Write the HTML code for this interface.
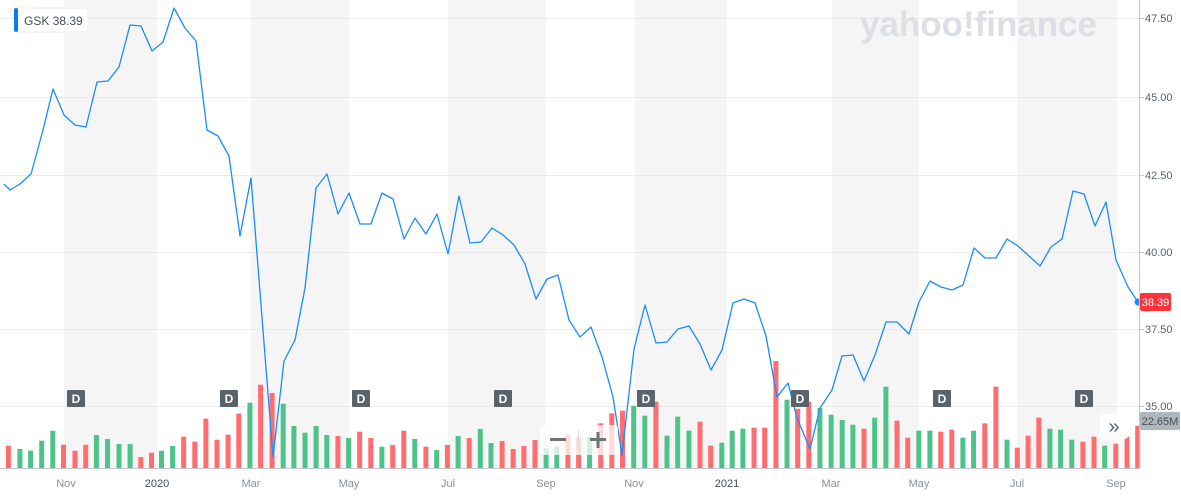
<!DOCTYPE html>
<html><head><meta charset="utf-8"><style>
html,body{margin:0;padding:0;background:#fff;}
svg{display:block;font-family:"Liberation Sans",sans-serif;}
</style></head><body>
<svg id="s" width="1181" height="501" xmlns="http://www.w3.org/2000/svg">
<rect width="1181" height="501" fill="#fff"/>
<g fill="#f5f5f5">
<rect x="64" y="0" width="93" height="468"/>
<rect x="251" y="0" width="98" height="468"/>
<rect x="448" y="0" width="98" height="468"/>
<rect x="635" y="0" width="92" height="468"/>
<rect x="832" y="0" width="87" height="468"/>
<rect x="1017" y="0" width="100" height="468"/>
</g>
<g stroke="#ebebeb" stroke-width="1">
<line x1="0" y1="18.5" x2="1139" y2="18.5"/>
<line x1="0" y1="97.5" x2="1139" y2="97.5"/>
<line x1="0" y1="175.5" x2="1139" y2="175.5"/>
<line x1="0" y1="252.5" x2="1139" y2="252.5"/>
<line x1="0" y1="329.5" x2="1139" y2="329.5"/>
<line x1="0" y1="406.5" x2="1139" y2="406.5"/>
</g>
<text x="860" y="36" font-size="35" font-weight="bold" fill="#dcdfe3" textLength="237" lengthAdjust="spacingAndGlyphs">yahoo!finance</text>
<g id="bars"></g>
<polyline id="pl" fill="none" stroke="#1a8cff" stroke-width="1.3" stroke-linejoin="round"/>
<circle cx="1138" cy="302" r="3.5" fill="#1a8cff"/>
<g id="dm"></g>
<line x1="0" y1="468.5" x2="1139" y2="468.5" stroke="#c4c8cc"/>
<line x1="1139.5" y1="0" x2="1139.5" y2="469" stroke="#c4c8cc"/>
<g stroke="#c4c8cc">
<line x1="1139" y1="18.5" x2="1144" y2="18.5"/><line x1="1139" y1="97.5" x2="1144" y2="97.5"/>
<line x1="1139" y1="175.5" x2="1144" y2="175.5"/><line x1="1139" y1="252.5" x2="1144" y2="252.5"/>
<line x1="1139" y1="329.5" x2="1144" y2="329.5"/><line x1="1139" y1="406.5" x2="1144" y2="406.5"/>
</g>
<g font-size="11" fill="#5b636a">
<text x="1145" y="22">47.50</text><text x="1145" y="101">45.00</text>
<text x="1145" y="179">42.50</text><text x="1145" y="256">40.00</text>
<text x="1145" y="333">37.50</text><text x="1145" y="410">35.00</text>
</g>
<g font-size="11" fill="#8a9096" text-anchor="middle">
<text x="66" y="487">Nov</text><text x="157" y="487" fill="#464e56">2020</text>
<text x="251" y="487">Mar</text><text x="349" y="487">May</text><text x="448" y="487">Jul</text>
<text x="546" y="487">Sep</text><text x="634" y="487">Nov</text><text x="727" y="487" fill="#464e56">2021</text>
<text x="831" y="487">Mar</text><text x="919" y="487">May</text><text x="1017" y="487">Jul</text><text x="1116" y="487">Sep</text>
</g>
<rect x="1140" y="293" width="31" height="18" rx="2" fill="#ff333a"/>
<text x="1155.5" y="306" font-size="11" fill="#fff" text-anchor="middle">38.39</text>
<rect x="1140" y="412" width="40" height="18" rx="2" fill="#b0b6bd"/>
<text x="1160" y="425" font-size="11" fill="#464e56" text-anchor="middle">22.65M</text>
<rect x="1100" y="414" width="28" height="25" rx="3" fill="#fff" opacity="0.9"/>
<text x="1114" y="433" font-size="20" fill="#5b636a" text-anchor="middle">»</text>
<rect x="540" y="425" width="78" height="30" rx="3" fill="#fff" opacity="0.75"/>
<rect x="550" y="438" width="16" height="3" fill="#6e757c"/>
<rect x="590" y="438" width="16" height="3" fill="#6e757c"/><rect x="596.5" y="432" width="3" height="16" fill="#6e757c"/>
<line x1="578.5" y1="430" x2="578.5" y2="450" stroke="#ddd"/>
<rect x="14" y="8" width="74" height="24" rx="3" fill="#fff" stroke="#eee"/>
<rect x="14" y="8" width="4" height="24" rx="2" fill="#0081f2"/>
<text x="24" y="25" font-size="12" fill="#464e56">GSK  38.39</text>
</svg>
<script>
var pts=[[4,184],[10,190],[20,184],[31,174],[43,130],[53,89],[64,115],[75,125],[86,127],[97,82],[108,81],[119,67],[130,25],[141,26],[152,51],[163,42],[174,8],[185,28],[196,41],[207,130],[218,136],[229,156],[240,236],[251,178],[273,457],[284,361],[295,340],[305,288],[316,188],[327,174],[338,214],[349,193],[360,224],[371,224],[382,193],[393,199],[404,239],[415,218],[426,234],[437,214],[448,254],[459,196],[470,243],[481,242],[492,228],[503,235],[514,245],[525,264],[536,299],[547,279],[558,275],[569,320],[580,337],[591,327],[602,357],[613,397],[622,455],[634,349],[645,305],[656,343],[667,342],[678,329],[689,326],[700,344],[711,370],[722,350],[733,303],[744,299],[755,303],[766,336],[777,397],[788,383],[797,418],[810,449],[820,408],[832,390],[842,356],[853,355],[864,381],[875,355],[886,322],[897,322],[909,334],[919,302],[930,281],[941,287],[952,290],[963,285],[974,248],[985,258],[996,258],[1007,239],[1018,246],[1040,266],[1051,247],[1062,239],[1073,191],[1084,194],[1095,226],[1106,202],[1116,260],[1128,287],[1138,302]];
document.getElementById('pl').setAttribute('points',pts.map(function(p){return p.join(',')}).join(' '));
var xs1=[22,52,80,109,138,166,196,224,252,281,311,340,368,396,422,451,480,509,538,567,596,624,653,681,711,740,768,797,826,854,883,911,940,969,998,1026,1055,1084,1113,1141,1169,1197,1226,1255,1283,1312,1341,1369,1398,1427,1455,1484,1512];
var t1=[227,237,242,212,182,224,242,224,195,207,222,222,261,248,242,228,200,215,146,209,194,131,98,44,69,101,168,188,168,195,198,204,185,204,230,225,182,207,230,240,225,198,204,177,219,213,237,228,210,235,230,195,200];
var c1=("rggggrrrgg"+"ggrrggrrrr"+"rrgrrggggg"+"rgrrgrrgrg"+"rgrggrrrrg"+"grr").split("");
var g=document.getElementById('bars'),h='';
function bar(x,top,c){var y=370+top/3;h+='<rect x="'+(x-2.5).toFixed(1)+'" y="'+y.toFixed(1)+'" width="5" height="'+(468-y).toFixed(1)+'" fill="'+(c=='g'?'#4dc38a':'#ff6d70')+'"/>';}
for(var i=0;i<xs1.length;i++)bar(xs1[i]/2.613,t1[i],c1[i]);
var z2=[[25,200,'g'],[54,160,'r'],[83,130,'r'],[111,122,'r'],[140,107,'g'],[169,137,'g'],[198,95,'r'],[227,197,'g'],[255,140,'g'],[284,182,'g'],[313,155,'r'],[341,227,'r'],[370,218,'g'],[397,182,'g'],[425,176,'g'],[454,173,'r'],[482,173,'r'],[511,-27,'r'],[540,89,'g'],[568,116,'r'],[597,95,'r'],[626,114,'g'],[655,134,'g'],[684,150,'g'],[712,164,'g'],[741,176,'r'],[769,143,'g'],[798,50,'g'],[827,152,'r'],[855,203,'r'],[884,182,'g'],[913,182,'g'],[941,185,'r'],[970,179,'r'],[999,203,'g'],[1027,182,'g'],[1056,160,'r'],[1085,50,'r'],[1114,209,'g'],[1141,233,'r'],[1169,197,'r'],[1197,143,'r'],[1226,176,'g'],[1254,179,'g'],[1283,209,'g'],[1312,215,'r'],[1341,200,'r'],[1369,227,'g'],[1398,221,'r'],[1427,200,'r'],[1455,167,'r']];
for(var j=0;j<z2.length;j++)bar(580+z2[j][0]/2.609,z2[j][1],z2[j][2]);
g.innerHTML=h;
var dx=[76,229,361,503,646,800,942,1084],d='';
dx.forEach(function(x){d+='<rect x="'+(x-9)+'" y="390" width="18" height="17" rx="1" fill="#5b636a"/><text x="'+x+'" y="403" font-size="12" font-weight="bold" fill="#fff" text-anchor="middle">D</text>';});
document.getElementById('dm').innerHTML=d;
</script>
</body></html>
